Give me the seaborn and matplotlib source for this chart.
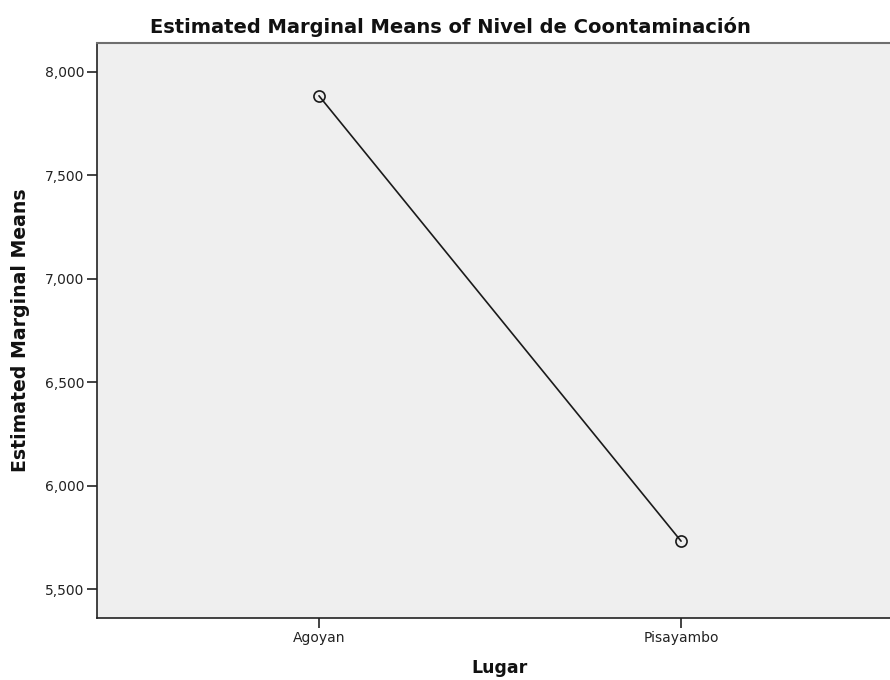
import pandas as pd
import matplotlib.pyplot as plt
import matplotlib.ticker as mticker
import seaborn as sns

# data
lugar = ['Agoyan', 'Pisayambo']
medias = [7884, 5732]
yticks = [5500, 6000, 6500, 7000, 7500, 8000]

df = pd.DataFrame({'Lugar': lugar, 'Media': medias})

sns.set_theme(style='white')
plt.rcParams['font.family'] = ['DejaVu Sans']

fig = plt.figure(figsize=(8.9, 6.8), dpi=100)
ax = fig.add_axes([0.109, 0.091, 0.891, 0.846])
ax.set_facecolor('#efefef')

sns.lineplot(data=df, x='Lugar', y='Media', ax=ax, color='#1a1a1a', linewidth=1.2,
             marker='o', markersize=8, markerfacecolor='none',
             markeredgecolor='#1a1a1a', markeredgewidth=1.2)

ax.set_xlim(-0.613, 1.577)
ax.set_ylim(5360, 8140)
ax.set_yticks(yticks)
ax.yaxis.set_major_formatter(mticker.FuncFormatter(lambda v, p: f'{int(v):,}'))

for side in ['left', 'bottom']:
    ax.spines[side].set_color('#222222')
    ax.spines[side].set_linewidth(1.2)
ax.spines['top'].set_color('#6e6e6e')
ax.spines['top'].set_linewidth(1.5)
ax.spines['right'].set_visible(False)

ax.tick_params(axis='both', which='major', length=7.5, width=1.2, color='#222222',
               labelsize=10, labelcolor='#222222', bottom=True, left=True, pad=1.5)

ax.set_title('Estimated Marginal Means of Nivel de Coontaminación',
             fontsize=14, fontweight='bold', pad=7, x=0.446, color='#111111')
ax.set_xlabel('Lugar', fontsize=12.5, fontweight='bold', color='#111111')
ax.set_ylabel('Estimated Marginal Means', fontsize=13.6, fontweight='bold', color='#111111')
ax.xaxis.set_label_coords(0.508, -0.071)
ax.yaxis.set_label_coords(-0.0845, 0.5)

fig.savefig('out.png', dpi=100)
